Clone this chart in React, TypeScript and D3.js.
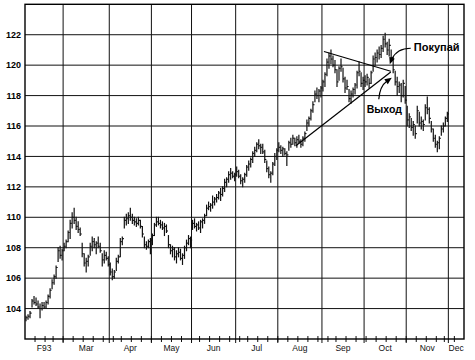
import React, { useEffect, useRef } from 'react';
import * as d3 from 'd3';

// month labels (the first one carries the year), y-axis ticks
const monthLabels = ['F93', 'Mar', 'Apr', 'May', 'Jun', 'Jul', 'Aug', 'Sep', 'Oct', 'Nov', 'Dec'];
const yTicks = [104, 106, 108, 110, 112, 114, 116, 118, 120, 122];
const holidays = ['1993-02-15', '1993-04-09', '1993-05-31', '1993-07-05', '1993-09-06', '1993-11-25'];

// daily bars, Feb 1 1993 .. Nov 30 1993 (one value per trading day)
const highs = [
  103.5, 103.6, 103.8, 104.6, 104.8, 104.7, 104.5, 104.3, 104.4, 104.4, 104.5, 104.9, 105.3, 105.9, 106.2, 106.8, 108.0, 108.1, 107.9,
  108.3, 108.5, 109.1, 109.8, 110.3, 110.6, 110.0, 109.7, 109.3, 108.3, 107.6, 107.3, 107.5, 108.3, 108.7, 108.6, 108.4, 108.7, 108.3, 107.6, 107.8, 107.7, 107.4,
  107.0, 106.6, 106.5, 107.3, 107.5, 108.6, 108.7, 110.0, 110.2, 110.3, 110.6, 110.2, 110.0, 109.9, 110.0, 109.8, 109.4, 108.7, 108.4, 108.5, 108.6,
  108.9, 109.6, 110.0, 110.0, 109.8, 109.7, 109.6, 109.5, 108.8, 108.2, 108.1, 108.0, 107.8, 108.0, 107.9, 107.6, 108.1, 108.5, 108.8, 108.7,
  109.8, 109.9, 109.6, 109.7, 109.8, 109.9, 110.2, 110.8, 111.0, 110.9, 111.4, 111.3, 111.5, 111.7, 111.9, 112.0, 112.5, 112.6, 113.0, 113.2, 113.0, 112.9,
  113.3, 113.1, 112.8, 112.6, 112.9, 113.4, 113.7, 113.9, 114.3, 114.6, 114.9, 115.1, 114.8, 114.8, 114.4, 113.7, 113.3, 113.0, 113.6, 114.2, 114.5,
  114.9, 114.7, 114.6, 114.5, 114.3, 115.0, 115.2, 115.4, 115.2, 115.3, 115.4, 115.1, 115.3, 115.6, 116.4, 116.6, 117.1, 117.6, 118.3, 118.5, 118.4, 118.6,
  119.0, 119.5, 120.4, 120.8, 121.0, 120.6, 120.3, 119.7, 119.9, 120.4, 119.8, 119.2, 119.0, 118.4, 118.3, 118.5, 118.8, 119.6, 120.2, 119.5, 119.2,
  119.3, 119.4, 119.1, 119.6, 120.6, 120.8, 121.0, 121.2, 121.3, 121.9, 122.1, 121.5, 121.7, 121.0, 120.5, 119.6, 119.2, 118.9, 118.8, 119.0, 118.6,
  117.3, 116.8, 116.5, 116.3, 116.0, 117.3, 116.9, 116.6, 116.4, 117.4, 117.9, 117.2, 116.3, 115.8, 115.4, 115.0, 115.3, 116.0, 116.2, 116.6, 116.9,
];
const lows = [
  103.2, 103.3, 103.4, 104.1, 104.3, 104.2, 104.0, 103.4, 103.9, 104.0, 104.0, 104.3, 104.7, 105.3, 105.6, 106.0, 107.1, 107.3, 107.2,
  107.8, 108.0, 108.4, 108.6, 109.3, 109.6, 109.2, 109.0, 108.8, 107.4, 106.8, 106.4, 106.8, 107.5, 107.8, 108.0, 107.6, 108.0, 107.7, 106.8, 107.0, 107.2, 106.8,
  106.2, 105.9, 106.0, 106.5, 107.0, 107.4, 108.2, 109.3, 109.5, 109.6, 109.8, 109.6, 109.5, 109.4, 109.5, 109.3, 108.7, 108.0, 107.9, 108.0, 107.6,
  108.2, 108.8, 109.4, 109.5, 109.3, 109.2, 108.8, 109.0, 108.0, 107.6, 107.4, 107.2, 107.0, 107.4, 107.2, 106.9, 107.3, 107.8, 108.2, 108.0,
  109.2, 109.3, 109.1, 109.2, 109.0, 109.3, 109.6, 110.1, 110.5, 110.4, 110.6, 110.8, 111.0, 111.2, 111.1, 111.4, 111.7, 112.0, 112.3, 112.5, 112.6, 112.4,
  112.7, 112.6, 112.2, 112.0, 112.3, 112.7, 113.1, 113.3, 113.6, 114.0, 114.3, 114.5, 114.2, 114.2, 113.6, 113.0, 112.6, 112.3, 112.8, 113.4, 113.8,
  114.3, 114.2, 114.0, 114.1, 113.4, 114.4, 114.6, 114.8, 114.7, 114.6, 114.9, 114.6, 114.7, 115.0, 115.7, 116.0, 116.4, 116.9, 117.6, 117.8, 117.6, 117.9,
  118.3, 118.6, 119.3, 119.8, 120.1, 119.9, 119.5, 118.6, 119.0, 119.6, 118.9, 118.2, 118.4, 117.6, 117.5, 117.9, 118.1, 118.5, 119.3, 118.6, 118.4,
  118.6, 118.7, 118.5, 118.8, 119.6, 120.0, 120.2, 120.4, 120.5, 120.9, 121.2, 120.7, 120.6, 120.3, 119.5, 118.7, 118.0, 118.2, 117.6, 117.9, 117.5,
  116.0, 115.9, 115.7, 115.4, 115.2, 116.2, 116.0, 115.8, 115.7, 116.4, 116.8, 116.2, 115.6, 115.0, 114.6, 114.3, 114.5, 115.4, 115.6, 116.0, 116.3,
];
const closes = [
  103.4, 103.5, 103.7, 104.5, 104.4, 104.3, 104.1, 104.0, 104.2, 104.1, 104.4, 104.8, 105.2, 105.7, 106.1, 106.7, 107.8, 107.5, 107.8,
  108.1, 108.4, 109.0, 109.6, 110.0, 109.8, 109.4, 109.2, 108.9, 107.6, 107.0, 107.1, 107.4, 108.1, 108.4, 108.2, 108.3, 108.1, 107.8, 107.2, 107.5, 107.3, 106.9,
  106.4, 106.1, 106.4, 107.1, 107.4, 108.4, 108.6, 109.8, 109.9, 110.1, 110.0, 109.8, 109.7, 109.6, 109.8, 109.4, 108.9, 108.2, 108.1, 108.4, 108.5,
  108.8, 109.5, 109.7, 109.6, 109.5, 109.3, 109.4, 109.1, 108.2, 107.8, 107.9, 107.4, 107.6, 107.7, 107.3, 107.5, 108.0, 108.3, 108.6, 108.5,
  109.6, 109.4, 109.5, 109.3, 109.7, 109.8, 110.1, 110.6, 110.7, 110.8, 111.0, 111.2, 111.3, 111.6, 111.5, 111.9, 112.3, 112.5, 112.8, 112.9, 112.7, 112.8,
  113.0, 112.7, 112.4, 112.5, 112.8, 113.3, 113.5, 113.8, 114.2, 114.4, 114.8, 114.7, 114.6, 114.3, 113.8, 113.2, 112.8, 112.9, 113.5, 114.0, 114.4,
  114.6, 114.4, 114.5, 114.2, 114.1, 114.9, 114.8, 115.2, 114.9, 115.1, 115.0, 114.8, 115.2, 115.5, 116.2, 116.5, 117.0, 117.4, 118.1, 118.0, 118.3, 118.5,
  118.9, 119.4, 120.2, 120.6, 120.4, 120.0, 119.7, 118.9, 119.8, 119.9, 119.1, 118.5, 118.6, 117.8, 118.1, 118.4, 118.7, 119.5, 119.6, 118.8, 119.0,
  118.9, 119.2, 118.8, 119.5, 120.4, 120.5, 120.8, 120.7, 121.1, 121.7, 121.4, 121.0, 121.3, 120.5, 119.7, 118.9, 118.6, 118.7, 118.0, 118.8, 117.7,
  116.4, 116.6, 115.9, 116.1, 115.5, 117.0, 116.2, 116.3, 116.1, 117.2, 117.1, 116.5, 115.8, 115.2, 114.8, 114.9, 115.2, 115.8, 116.0, 116.5, 116.8,
];

// triangle: upper and lower trend lines, in trading-day index and price
const trendLines = [
  { d1: 149, v1: 120.9, d2: 182.3, v2: 119.6 },
  { d1: 135, v1: 114.7, d2: 182.3, v2: 119.55 },
];

function tradingDays() {
  const days: Date[] = [];
  const off = new Set(holidays);
  for (let d = new Date(1993, 1, 1); d <= new Date(1993, 11, 31); d = d3.timeDay.offset(d, 1)) {
    const wd = d.getDay();
    if (wd === 0 || wd === 6) continue;
    if (off.has(d3.timeFormat('%Y-%m-%d')(d))) continue;
    days.push(d);
  }
  return days;
}

function PriceChart() {
  const ref = useRef<SVGSVGElement | null>(null);

  useEffect(() => {
    const svg = d3.select(ref.current);
    svg.selectAll('*').remove();

    const left = 25, right = 464, top = 4.3, bottom = 339;
    const days = tradingDays();

    const x = d3.scaleLinear().domain([0, 218.8]).range([left, right]);
    const y = d3.scaleLinear().domain([102, 124]).range([bottom, top]);

    // month boundaries and week starts (as trading-day index)
    const monthStarts: number[] = [];
    const weekStarts: number[] = [];
    days.forEach((d, i) => {
      if (i === 0 || d.getMonth() !== days[i - 1].getMonth()) monthStarts.push(i);
      if (i > 0 && d.getDay() <= days[i - 1].getDay()) weekStarts.push(i);
    });

    svg.append('rect').attr('width', 475).attr('height', 360).attr('fill', '#fff');

    const g = svg.append('g');

    // horizontal grid
    g.selectAll('line.h')
      .data(yTicks)
      .enter()
      .append('line')
      .attr('x1', left).attr('x2', right)
      .attr('y1', (d) => y(d)).attr('y2', (d) => y(d))
      .attr('stroke', '#111').attr('stroke-width', 1);

    // month grid lines, running a little below the axis
    g.selectAll('line.m')
      .data(monthStarts.slice(1).filter((i) => i < 218))
      .enter()
      .append('line')
      .attr('x1', (d) => x(d)).attr('x2', (d) => x(d))
      .attr('y1', top).attr('y2', bottom + 4)
      .attr('stroke', '#111').attr('stroke-width', 1);

    // weekly ticks on the bottom axis
    g.selectAll('line.w')
      .data(weekStarts.filter((i) => i < 218))
      .enter()
      .append('line')
      .attr('x1', (d) => x(d)).attr('x2', (d) => x(d))
      .attr('y1', bottom - 3).attr('y2', bottom + 3)
      .attr('stroke', '#111').attr('stroke-width', 1);

    // frame
    g.append('rect')
      .attr('x', left).attr('y', top)
      .attr('width', right - left).attr('height', bottom - top)
      .attr('fill', 'none').attr('stroke', '#000').attr('stroke-width', 1.4);

    // y labels
    g.selectAll('text.y')
      .data(yTicks)
      .enter()
      .append('text')
      .attr('x', 21).attr('y', (d) => y(d))
      .attr('dy', '0.35em')
      .attr('text-anchor', 'end')
      .attr('font-family', '"Liberation Sans", Arial, sans-serif')
      .attr('font-weight', 'bold')
      .attr('font-size', 9)
      .text((d) => d);

    // month labels centred in each month
    const bounds = [...monthStarts.slice(0, monthLabels.length), 218.8];
    g.selectAll('text.mo')
      .data(monthLabels)
      .enter()
      .append('text')
      .attr('x', (d, i) => (x(bounds[i]) + x(Math.min(bounds[i + 1], 218.8))) / 2)
      .attr('y', 351)
      .attr('text-anchor', 'middle')
      .attr('font-family', '"Liberation Sans", Arial, sans-serif')
      .attr('font-size', 8.5)
      .attr('fill', '#111')
      .text((d) => d);

    // price bars
    const bars = g.append('g').attr('stroke', '#111');
    highs.forEach((h, i) => {
      const cx = x(i + 0.5);
      bars.append('line')
        .attr('x1', cx).attr('x2', cx)
        .attr('y1', y(lows[i]) + 0.5).attr('y2', y(h) - 0.5)
        .attr('stroke-width', 1.2);
      bars.append('line')
        .attr('x1', cx).attr('x2', cx + 1.6)
        .attr('y1', y(closes[i])).attr('y2', y(closes[i]))
        .attr('stroke-width', 1.1);
    });

    // trend lines
    g.selectAll('line.t')
      .data(trendLines)
      .enter()
      .append('line')
      .attr('x1', (d) => x(d.d1)).attr('y1', (d) => y(d.v1))
      .attr('x2', (d) => x(d.d2)).attr('y2', (d) => y(d.v2))
      .attr('stroke', '#000').attr('stroke-width', 1.2);

    // annotations, anchored at the apex of the triangle
    const ax = x(182.3), ay = y(119.6);
    const font = '"Liberation Sans", Arial, sans-serif';

    g.append('path')
      .attr('d', `M${ax + 20},${ay - 23} Q${ax + 6},${ay - 23} ${ax + 1},${ay - 12}`)
      .attr('fill', 'none').attr('stroke', '#000').attr('stroke-width', 1.2);
    g.append('path')
      .attr('d', `M${ax - 1},${ay - 7} L${ax - 1.5},${ay - 14.5} L${ax + 4},${ay - 12.5} Z`)
      .attr('fill', '#000');
    g.append('text')
      .attr('x', ax + 23).attr('y', ay - 20.5)
      .attr('font-family', font).attr('font-weight', 'bold').attr('font-size', 11)
      .text('Покупай');

    g.append('path')
      .attr('d', `M${ax - 12},${ay + 28} Q${ax - 11},${ay + 15} ${ax - 4},${ay + 10}`)
      .attr('fill', 'none').attr('stroke', '#000').attr('stroke-width', 1.2);
    g.append('path')
      .attr('d', `M${ax + 1},${ay + 6.5} L${ax - 3},${ay + 13} L${ax - 6.5},${ay + 8} Z`)
      .attr('fill', '#000');
    g.append('text')
      .attr('x', ax - 24).attr('y', ay + 42)
      .attr('font-family', font).attr('font-weight', 'bold').attr('font-size', 10.5)
      .text('Выход');
  }, []);

  return <svg ref={ref} width={475} height={360} style={{ position: 'absolute', left: 0, top: 0 }} />;
}

export default function App() {
  return <PriceChart />;
}
